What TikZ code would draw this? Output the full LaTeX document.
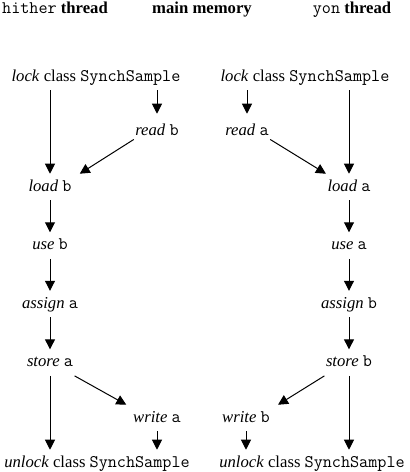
\documentclass[tikz,border=0pt]{standalone}
\usepackage{fontspec}
\setmainfont{Liberation Serif}
\setmonofont{Latin Modern Mono}[Scale=1.06]
\usepackage{tikz}
\usetikzlibrary{arrows.meta, positioning}

\begin{document}
\begin{tikzpicture}[
  x=0.75pt, y=-0.75pt,
  act/.style={inner xsep=1pt, inner ysep=3.75pt, text height=9pt,
              text depth=3pt, font=\fontsize{12.5}{15}\selectfont},
  head/.style={act, font=\fontsize{12.5}{15}\selectfont\bfseries},
  arr/.style={-{Triangle[length=7.5pt, width=7.5pt]}, line width=0.75pt},
  node distance=24pt,
]
  \useasboundingbox (0,0) rectangle (410,472);

  % column headings
  \node[head] (hither) at (55,9)  {\texttt{\mdseries hither} thread};
  \node[head] (memory) at (202,9) {main memory};
  \node[head] (yon)    at (352,9) {\texttt{\mdseries yon} thread};

  % hither thread
  \node[act] (lockh) at (96,77) {\textit{lock} class \texttt{SynchSample}};
  \node[act] (loadb) at (50,187) {\textit{load} \texttt{b}};
  \node[act, below=of loadb]   (useb)    {\textit{use} \texttt{b}};
  \node[act, below=of useb]    (assigna) {\textit{assign} \texttt{a}};
  \node[act, below=of assigna] (storea)  {\textit{store} \texttt{a}};
  \node[act] (unlockh) at (97,463) {\textit{unlock} class \texttt{SynchSample}};

  % main memory
  \node[act] (readb)  at (157,131) {\textit{read} \texttt{b}};
  \node[act] (reada)  at (247,131) {\textit{read} \texttt{a}};
  \node[act] (writea) at (157,418) {\textit{write} \texttt{a}};
  \node[act] (writeb) at (246,418) {\textit{write} \texttt{b}};

  % yon thread
  \node[act] (locky) at (305,77) {\textit{lock} class \texttt{SynchSample}};
  \node[act] (loada) at (349,187) {\textit{load} \texttt{a}};
  \node[act, below=of loada]   (usea)    {\textit{use} \texttt{a}};
  \node[act, below=of usea]    (assignb) {\textit{assign} \texttt{b}};
  \node[act, below=of assignb] (storeb)  {\textit{store} \texttt{b}};
  \node[act] (unlocky) at (312,463) {\textit{unlock} class \texttt{SynchSample}};

  % hither side
  \draw[arr] (lockh.south -| loadb) -- (loadb);
  \draw[arr] (lockh.south -| readb) -- ([yshift=3pt]readb.north);
  \draw[arr] (readb.200) -- ([xshift=5pt]loadb.north east);
  \draw[arr] (loadb) -- (useb);
  \draw[arr] (useb) -- (assigna);
  \draw[arr] (assigna) -- (storea);
  \draw[arr] (storea.south east) -- ([xshift=-4pt]writea.north west);
  \draw[arr] (storea) -- (unlockh.north -| storea);
  \draw[arr] (writea) -- (unlockh.north -| writea);

  % yon side
  \draw[arr] (locky.south -| reada) -- ([yshift=3pt]reada.north);
  \draw[arr] (locky.south -| loada) -- (loada);
  \draw[arr] (reada.340) -- (loada.north west);
  \draw[arr] (loada) -- (usea);
  \draw[arr] (usea) -- (assignb);
  \draw[arr] (assignb) -- (storeb);
  \draw[arr] (storeb.south west) -- ([xshift=5pt]writeb.north east);
  \draw[arr] (writeb) -- (unlocky.north -| writeb);
  \draw[arr] (storeb) -- (unlocky.north -| storeb);
\end{tikzpicture}
\end{document}
